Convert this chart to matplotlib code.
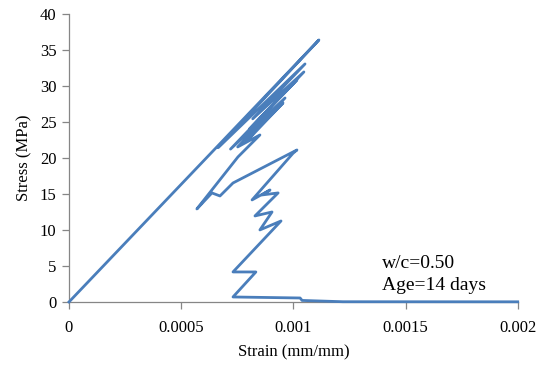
import matplotlib
matplotlib.use('Agg')
import matplotlib.pyplot as plt

# Stress-strain trace (w/c = 0.50, 14 days)
strain = [0.0, 0.001114, 0.000665, 0.001052, 0.000819, 0.001047, 0.000805,
          0.001016, 0.000720, 0.000963, 0.000801, 0.000954, 0.000792,
          0.000887, 0.000752, 0.000851, 0.000753, 0.000570, 0.000637,
          0.000673, 0.000731, 0.001016, 0.000998, 0.000816, 0.000896,
          0.000860, 0.000932, 0.000829, 0.000905, 0.000851, 0.000945,
          0.000731, 0.000833, 0.000731, 0.001030, 0.001039, 0.001221, 0.002]
stress = [0.0, 36.34, 21.40, 33.01, 25.40, 31.90, 24.00,
          30.79, 21.20, 28.29, 23.00, 27.60, 22.30,
          25.94, 21.50, 23.16, 20.11, 12.90, 15.12,
          14.70, 16.50, 21.08, 20.60, 14.15, 15.53,
          14.84, 15.12, 11.93, 12.48, 9.99, 11.23,
          4.16, 4.16, 0.69, 0.55, 0.21, 0.03, 0.02]

x_ticks = [0, 0.0005, 0.001, 0.0015, 0.002]
x_labels = ['0', '0.0005', '0.001', '0.0015', '0.002']
y_ticks = [0, 5, 10, 15, 20, 25, 30, 35, 40]

plt.rcParams['font.family'] = ['Liberation Serif', 'DejaVu Serif']

fig = plt.figure(figsize=(5.39, 3.66), dpi=100)
ax = fig.add_axes([0.128, 0.175, 0.8325, 0.788])

ax.plot(strain, stress, color='#4A7EBB', linewidth=2.0, solid_joinstyle='round',
        clip_on=False, zorder=3)

ax.set_xlim(0, 0.002)
ax.set_ylim(0, 40)
ax.set_xticks(x_ticks)
ax.set_xticklabels(x_labels)
ax.set_yticks(y_ticks)

for side in ['top', 'right']:
    ax.spines[side].set_visible(False)
for side in ['left', 'bottom']:
    ax.spines[side].set_color('#868686')
    ax.spines[side].set_linewidth(0.9)
ax.tick_params(axis='both', colors='#868686', length=5, width=0.9,
               labelcolor='black', labelsize=12)
ax.tick_params(axis='x', pad=8)
ax.tick_params(axis='y', pad=4)

ax.set_xlabel('Strain (mm/mm)', fontsize=12, labelpad=6)
ax.set_ylabel('Stress (MPa)', fontsize=12, labelpad=5)

ax.text(0.001396, 5.4, 'w/c=0.50', fontsize=14, ha='left', va='center')
ax.text(0.001396, 2.3, 'Age=14 days', fontsize=14, ha='left', va='center')

fig.savefig('out.png', dpi=100)
